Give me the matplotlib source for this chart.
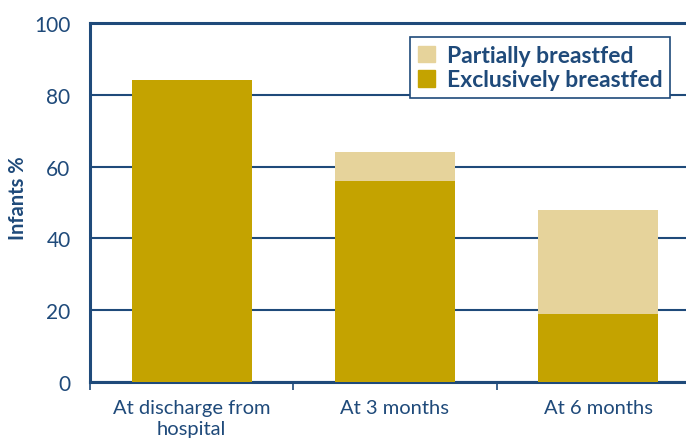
import matplotlib
matplotlib.use("Agg")
import matplotlib.pyplot as plt
import numpy as np
from matplotlib.patches import Patch

# data
categories = ["At discharge from\nhospital", "At 3 months", "At 6 months"]
exclusive = [84, 56, 19]
partial = [0, 8, 29]   # stacked on top of exclusive

NAVY = "#1f4a7a"
GOLD = "#c4a300"
SAND = "#e6d39b"

plt.rcParams["font.family"] = ["Lato", "DejaVu Sans"]

fig = plt.figure(figsize=(6.86, 4.39), dpi=100)
# axes runs past the right edge, like the cropped reference
ax = fig.add_axes([90 / 686, 56 / 439, 610 / 686, 359 / 439])

x = np.arange(len(categories))
ax.bar(x, exclusive, width=0.59, color=GOLD, zorder=3)
ax.bar(x, partial, width=0.59, bottom=exclusive, color=SAND, zorder=3)

ax.set_xlim(-0.5, len(categories) - 0.5)
ax.set_ylim(0, 100)
ax.set_yticks(np.arange(0, 101, 20))
ax.yaxis.grid(True, color=NAVY, lw=1.5, zorder=0)
ax.tick_params(axis="y", length=0, pad=14, labelsize=15, colors=NAVY)

ax.set_xticks(x)
ax.set_xticklabels(categories, fontsize=14.5, color=NAVY, linespacing=1.3)
ax.tick_params(axis="x", length=0, pad=12)
ax.set_xticks(np.arange(-0.5, len(categories)), minor=True)
ax.tick_params(axis="x", which="minor", length=6, width=1.2, color=NAVY)

for side in ["left", "bottom", "top"]:
    ax.spines[side].set_color(NAVY)
    ax.spines[side].set_linewidth(2.2)
ax.spines["right"].set_visible(False)

ax.set_ylabel("Infants %", fontsize=14.5, fontweight="bold", color=NAVY)
ax.yaxis.set_label_coords(-62 / 610, 0.514)

handles = [Patch(color=SAND, label="Partially breastfed"),
           Patch(color=GOLD, label="Exclusively breastfed")]
leg = fig.legend(handles=handles, loc="upper left", bbox_to_anchor=(410 / 686, 1 - 38 / 439),
                 frameon=True, fancybox=False, edgecolor=NAVY, framealpha=1,
                 borderpad=0.35, borderaxespad=0, handlelength=0.75, handleheight=0.75,
                 handletextpad=0.5, labelspacing=0.15, prop={"weight": "bold", "size": 16.5})
leg.get_frame().set_linewidth(1.2)
for t in leg.get_texts():
    t.set_color(NAVY)

fig.savefig("out.png", dpi=100)
